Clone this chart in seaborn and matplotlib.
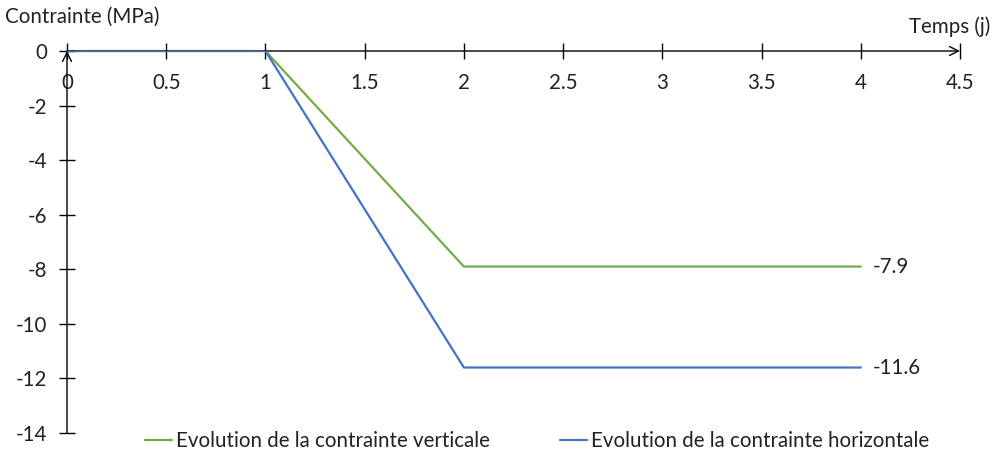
import matplotlib
matplotlib.use("Agg")
import matplotlib.pyplot as plt
import seaborn as sns
import pandas as pd

# Stress history over time (days)
temps = [0, 1, 2, 4]
contrainte_verticale = [0, 0, -7.9, -7.9]
contrainte_horizontale = [0, 0, -11.6, -11.6]
serie_noms = ["Evolution de la contrainte verticale", "Evolution de la contrainte horizontale"]
x_ticks = [0, 0.5, 1, 1.5, 2, 2.5, 3, 3.5, 4, 4.5]
x_tick_labels = ["0", "0.5", "1", "1.5", "2", "2.5", "3", "3.5", "4", "4.5"]
y_ticks = [0, -2, -4, -6, -8, -10, -12, -14]

couleurs = {serie_noms[0]: "#70AD47", serie_noms[1]: "#4472C4"}

df = pd.DataFrame({
    "Temps": temps * 2,
    "Contrainte": contrainte_verticale + contrainte_horizontale,
    "Serie": [serie_noms[0]] * len(temps) + [serie_noms[1]] * len(temps),
})

sns.set_theme(style="white")
plt.rcParams["font.family"] = ["Lato", "DejaVu Sans"]
fs = 14.8

fig = plt.figure(figsize=(9.96, 4.55), dpi=100)
ax = fig.add_axes([67 / 996, 22 / 455, 893 / 996, 382 / 455])

sns.lineplot(data=df, x="Temps", y="Contrainte", hue="Serie", palette=couleurs,
             linewidth=1.6, ax=ax, legend=False, zorder=3)

ax.set_xlim(0, 4.5)
ax.set_ylim(-14, 0)

# axes through the origin
ax.spines["bottom"].set_position(("data", 0))
for s in ["top", "right", "bottom", "left"]:
    ax.spines[s].set_visible(False)
ax.annotate("", xy=(4.5, 0), xytext=(0, 0),
            arrowprops=dict(arrowstyle="->", color="black", lw=1.0,
                            shrinkA=0, shrinkB=0, mutation_scale=16),
            annotation_clip=False, zorder=2)
ax.annotate("", xy=(0, 0), xytext=(0, -14),
            arrowprops=dict(arrowstyle="->", color="black", lw=1.0,
                            shrinkA=0, shrinkB=0, mutation_scale=16),
            annotation_clip=False, zorder=2)

ax.set_xticks(x_ticks)
ax.set_xticklabels(x_tick_labels)
ax.set_yticks(y_ticks)
ax.set_yticklabels([str(v) for v in y_ticks])
ax.tick_params(axis="x", direction="inout", length=12, width=1.0, color="black",
               pad=10, labelsize=fs, labelcolor="#222222", bottom=True)
ax.tick_params(axis="y", direction="inout", length=12, width=1.0, color="black",
               pad=8, labelsize=fs, labelcolor="#222222", left=True)
ax.set_xlabel("")
ax.set_ylabel("")
ax.grid(False)

fig.text(5 / 996, 1 - 17 / 455, "Contrainte (MPa)", fontsize=fs, color="#222222",
         ha="left", va="center")
fig.text(990 / 996, 1 - 27 / 455, "Temps (j)", fontsize=fs, color="#222222",
         ha="right", va="center")

# end-value labels
ax.text(temps[-1] + 0.06, contrainte_verticale[-1], f"{contrainte_verticale[-1]:.1f}",
        fontsize=fs, color="#222222", va="center", ha="left")
ax.text(temps[-1] + 0.06, contrainte_horizontale[-1], f"{contrainte_horizontale[-1]:.1f}",
        fontsize=fs, color="#222222", va="center", ha="left")

handles = [plt.Line2D([], [], color=couleurs[n], lw=1.6) for n in serie_noms]
fig.legend(handles, serie_noms, loc="center", bbox_to_anchor=(537 / 996, 1 - 441 / 455),
           ncol=2, frameon=False, fontsize=fs, handlelength=1.3, handletextpad=0.2,
           columnspacing=3.4, labelcolor="#222222")

fig.savefig("out.png", dpi=100)
